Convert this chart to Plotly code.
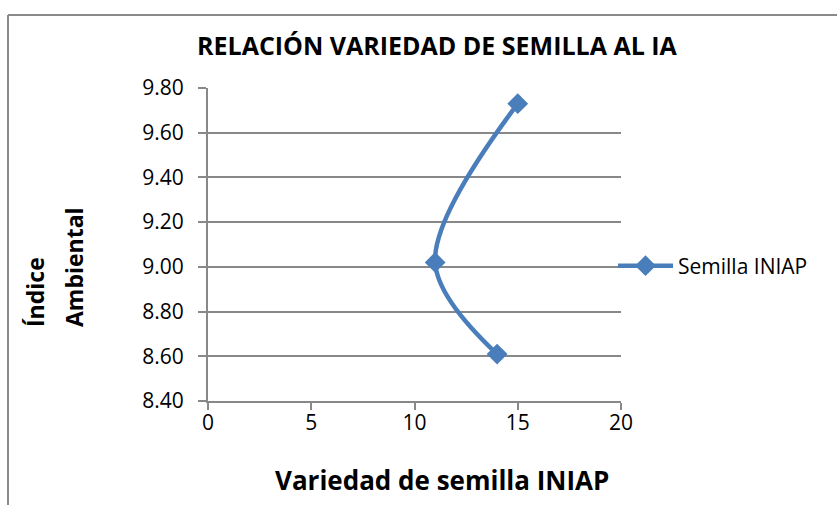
import plotly.graph_objects as go

x_vals = [14, 11, 15]
y_vals = [8.61, 9.02, 9.73]
series_name = "Semilla INIAP"
title_text = "RELACIÓN VARIEDAD DE SEMILLA AL IA"
x_title = "Variedad de semilla INIAP"
y_title_1 = "Índice"
y_title_2 = "Ambiental"
y_ticks = [8.4, 8.6, 8.8, 9.0, 9.2, 9.4, 9.6, 9.8]
x_ticks = [0, 5, 10, 15, 20]

FONT = "Open Sans, Calibri, sans-serif"
BLUE = "#4a7ebb"
GRID = "#888888"

W, H = 837, 505
L, R, T, B = 208, 216, 88, 104
pw, ph = W - L - R, H - T - B

def px_x(p):
    return (p - L) / pw

def px_y(p):
    return (H - B - p) / ph

fig = go.Figure()
fig.add_trace(go.Scatter(
    x=x_vals, y=y_vals, name=series_name, mode="lines+markers",
    line=dict(color=BLUE, width=4.5, shape="spline", smoothing=1.0),
    marker=dict(symbol="diamond", size=16, color=BLUE),
))

fig.update_layout(
    width=W, height=H,
    margin=dict(l=L, r=R, t=T, b=B),
    paper_bgcolor="white", plot_bgcolor="white",
    font=dict(family=FONT, size=21, color="black"),
    showlegend=True,
    legend=dict(x=px_x(613), y=px_y(266), xanchor="left", yanchor="middle",
                font=dict(size=21), itemwidth=55, bgcolor="rgba(0,0,0,0)"),
    xaxis=dict(range=[0, 20], tickvals=x_ticks, ticktext=[str(v) for v in x_ticks],
               showgrid=False, zeroline=False, showline=True, linecolor=GRID, linewidth=2,
               ticks="outside", ticklen=7, tickcolor=GRID, tickwidth=1.5, ticklabelstandoff=-5,
               tickfont=dict(size=21)),
    yaxis=dict(range=[8.4, 9.8], tickvals=y_ticks, ticktext=[f"{v:.2f}" for v in y_ticks],
               showgrid=True, gridcolor=GRID, gridwidth=1.5, zeroline=False,
               showline=True, linecolor=GRID, linewidth=2,
               ticks="outside", ticklen=8, tickcolor=GRID, tickwidth=1.5, ticklabelstandoff=10,
               tickfont=dict(size=21)),
    annotations=[
        dict(text=f"<b>{title_text}</b>", x=px_x(437), y=px_y(45), xref="paper", yref="paper",
             showarrow=False, font=dict(size=25, family=FONT), xanchor="center", yanchor="middle"),
        dict(text=f"<b>{x_title}</b>", x=px_x(442), y=px_y(480), xref="paper", yref="paper",
             showarrow=False, font=dict(size=26, family=FONT), xanchor="center", yanchor="middle"),
        dict(text=f"<b>{y_title_1}</b>", x=px_x(35), y=px_y(292), xref="paper", yref="paper",
             showarrow=False, textangle=-90, font=dict(size=23, family=FONT),
             xanchor="center", yanchor="middle"),
        dict(text=f"<b>{y_title_2}</b>", x=px_x(74), y=px_y(267), xref="paper", yref="paper",
             showarrow=False, textangle=-90, font=dict(size=23, family=FONT),
             xanchor="center", yanchor="middle"),
    ],
    shapes=[
        dict(type="line", xref="paper", yref="paper", x0=px_x(8), x1=px_x(8),
             y0=px_y(15), y1=px_y(H + 5), line=dict(color="#8a8a8a", width=2)),
        dict(type="line", xref="paper", yref="paper", x0=px_x(8), x1=px_x(W + 5),
             y0=px_y(15), y1=px_y(15), line=dict(color="#8a8a8a", width=2)),
    ],
)

fig.write_html("out.html", config={"displayModeBar": False},
               post_script="document.body.style.margin='0';")
